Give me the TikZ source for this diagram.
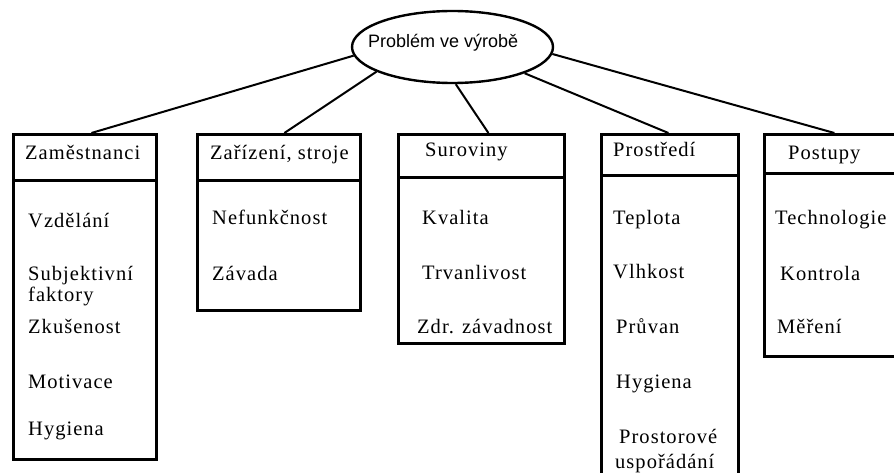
\documentclass[tikz,border=0pt]{standalone}
\usepackage{fontspec}
\setmainfont{Liberation Serif}
\newfontfamily\itemfont[LetterSpace=5]{Liberation Serif}
\newfontfamily\headfont{Liberation Sans}
\usetikzlibrary{shapes.geometric}

\begin{document}
\begin{tikzpicture}[x=1pt,y=-1pt,
  frame/.style={draw, line width=2.8pt, rectangle, inner sep=0pt, anchor=north west},
  item/.style={anchor=base west, inner sep=0pt, font=\itemfont\fontsize{20.5}{24}\selectfont},
  link/.style={line width=2pt}]
\useasboundingbox (0,0) rectangle (894,473);
\clip (0,0) rectangle (894,473);

% root ellipse
\node[ellipse, draw, line width=2.4pt, minimum width=201pt, minimum height=72pt, inner sep=0pt] (prob) at (452.5,47) {};
\node[anchor=base west, inner sep=0pt, font=\headfont\fontsize{18}{20}\selectfont] (probtxt) at (368,48) {Problém ve výrobě};

% category boxes: body first, header on top
\node[frame, minimum width=143pt, minimum height=279pt] (zamB) at (12,179) {};
\node[frame, minimum width=143pt, minimum height=46pt] (zamH) at (12,133) {};

\node[frame, minimum width=163pt, minimum height=130pt] (zarB) at (196,179) {};
\node[frame, minimum width=163pt, minimum height=46pt] (zarH) at (196,133) {};

\node[frame, minimum width=166pt, minimum height=166pt] (surB) at (397,176) {};
\node[frame, minimum width=166pt, minimum height=43pt] (surH) at (397,133) {};

\node[frame, minimum width=137pt, minimum height=330pt] (proB) at (600,174) {};
\node[frame, minimum width=137pt, minimum height=41pt] (proH) at (600,133) {};

\node[frame, minimum width=140pt, minimum height=183pt] (posB) at (763,172) {};
\node[frame, minimum width=140pt, minimum height=39pt] (posH) at (763,133) {};

% connectors
\draw[link] (prob.185) -- ([xshift=6.5pt]zamH.north);
\draw[link] (prob.198) -- ([xshift=5.5pt]zarH.north);
\draw[link] (prob.275) -- ([xshift=7pt]surH.north);
\draw[link] (prob.340) -- ([xshift=-1.5pt]proH.north);
\draw[link] (prob.356) -- (posH.north);

% Zaměstnanci
\node[item] (t11) at (25,160) {Zaměstnanci};
\node[item] (t12) at (28,227) {Vzdělání};
\node[item] (t13) at (28,280) {Subjektivní};
\node[item] (t14) at (28,301) {faktory};
\node[item] (t15) at (28,333) {Zkušenost};
\node[item] (t16) at (28,388) {Motivace};
\node[item] (t17) at (28,435) {Hygiena};

% Zařízení, stroje
\node[item] (t21) at (210,160) {Zařízení, stroje};
\node[item] (t22) at (212,225) {Nefunkčnost};
\node[item] (t23) at (212,280) {Závada};

% Suroviny
\node[item] (t31) at (425,157) {Suroviny};
\node[item] (t32) at (422,225) {Kvalita};
\node[item] (t33) at (422,279) {Trvanlivost};
\node[item] (t34) at (417,333) {Zdr. závadnost};

% Prostředí
\node[item] (t41) at (613,157) {Prostředí};
\node[item] (t42) at (613,225) {Teplota};
\node[item] (t43) at (613,278) {Vlhkost};
\node[item] (t44) at (616,333) {Průvan};
\node[item] (t45) at (616,388) {Hygiena};
\node[item] (t46) at (619,443) {Prostorové};
\node[item] (t47) at (615,468) {uspořádání};

% Postupy
\node[item] (t51) at (788,160) {Postupy};
\node[item] (t52) at (775,225) {Technologie};
\node[item] (t53) at (780,280) {Kontrola};
\node[item] (t54) at (777,333) {Měření};
\end{tikzpicture}
\end{document}
